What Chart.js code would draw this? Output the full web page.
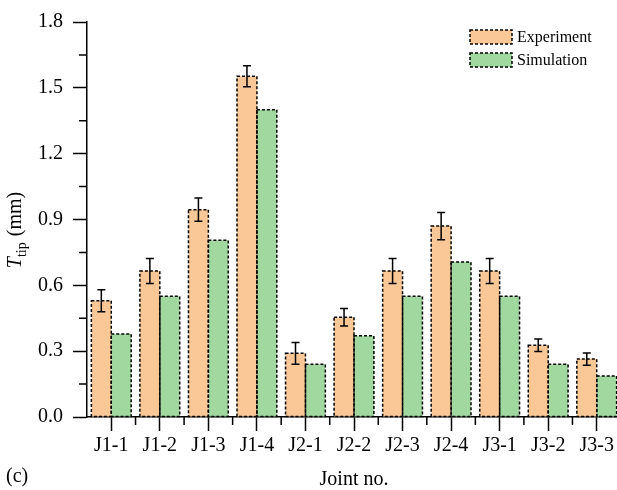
<!DOCTYPE html>
<html>
<head>
<meta charset="utf-8">
<script src="https://cdn.jsdelivr.net/npm/chart.js@4/dist/chart.umd.min.js"></script>
<style>
  html, body { margin: 0; padding: 0; background: #fff; overflow: hidden; }
  #wrap { width: 617px; height: 490px; overflow: hidden; }
  canvas { display: block; }
</style>
</head>
<body>
<div id="wrap"><canvas id="chart" width="621" height="490"></canvas></div>
<script>
// Tip deflection per joint: measured (with error) and simulated
const joints = ['J1-1', 'J1-2', 'J1-3', 'J1-4', 'J2-1', 'J2-2', 'J2-3', 'J2-4', 'J3-1', 'J3-2', 'J3-3'];
const experiment = [0.53, 0.665, 0.945, 1.553, 0.29, 0.455, 0.665, 0.87, 0.665, 0.327, 0.264];
const experimentError = [0.05, 0.057, 0.053, 0.048, 0.05, 0.04, 0.057, 0.062, 0.057, 0.028, 0.028];
const simulation = [0.378, 0.55, 0.805, 1.40, 0.24, 0.37, 0.55, 0.706, 0.55, 0.24, 0.187];
const yTicks = [0, 0.3, 0.6, 0.9, 1.2, 1.5, 1.8];

const FONT = '"Liberation Serif", "Times New Roman", serif';
const ORANGE = '#FAC896';
const GREEN = '#A0D8A0';

// Dotted outlines around every bar (bar elements only fill their borders)
const dottedOutline = {
  id: 'dottedOutline',
  afterDatasetsDraw(chart) {
    const ctx = chart.ctx;
    ctx.save();
    ctx.strokeStyle = '#000';
    ctx.lineWidth = 1.5;
    ctx.setLineDash([3, 2]);
    chart.data.datasets.forEach((ds, i) => {
      const meta = chart.getDatasetMeta(i);
      meta.data.forEach(bar => {
        const { x, y, base, width } = bar.getProps(['x', 'y', 'base', 'width'], true);
        ctx.strokeRect(x - width / 2, y, width, base - y);
      });
    });
    ctx.restore();
  }
};

// Error bars on the experiment series
const errorBars = {
  id: 'errorBars',
  afterDatasetsDraw(chart) {
    const ctx = chart.ctx;
    const yScale = chart.scales.y;
    const meta = chart.getDatasetMeta(0);
    ctx.save();
    ctx.strokeStyle = '#000';
    ctx.lineWidth = 1.5;
    ctx.setLineDash([]);
    meta.data.forEach((bar, i) => {
      const v = experiment[i], e = experimentError[i];
      const yTop = yScale.getPixelForValue(v + e);
      const yBot = yScale.getPixelForValue(v - e);
      const x = bar.x;
      ctx.beginPath();
      ctx.moveTo(x, yTop); ctx.lineTo(x, yBot);
      ctx.moveTo(x - 4, yTop); ctx.lineTo(x + 4, yTop);
      ctx.moveTo(x - 4, yBot); ctx.lineTo(x + 4, yBot);
      ctx.stroke();
    });
    ctx.restore();
  }
};

// Minor ticks, axis titles, legend and panel tag
const decorations = {
  id: 'decorations',
  afterDraw(chart) {
    const ctx = chart.ctx;
    const { left, right, top, bottom } = chart.chartArea;
    const xs = chart.scales.x, ys = chart.scales.y;
    ctx.save();
    ctx.strokeStyle = '#000';
    ctx.lineWidth = 1.5;
    ctx.beginPath();
    // minor y ticks halfway between labelled ticks
    for (let i = 0; i < yTicks.length - 1; i++) {
      const py = ys.getPixelForValue((yTicks[i] + yTicks[i + 1]) / 2);
      ctx.moveTo(left - 8, py); ctx.lineTo(left, py);
    }
    // minor x ticks at category boundaries
    for (let i = 1; i < joints.length; i++) {
      const px = (xs.getPixelForValue(i - 1) + xs.getPixelForValue(i)) / 2;
      ctx.moveTo(px, bottom); ctx.lineTo(px, bottom + 8);
    }
    ctx.stroke();

    ctx.fillStyle = '#000';
    // x title
    ctx.font = '20px ' + FONT;
    ctx.textAlign = 'center';
    ctx.textBaseline = 'alphabetic';
    ctx.fillText('Joint no.', (left + right) / 2, 485);
    // panel tag
    ctx.textAlign = 'left';
    ctx.fillText('(c)', 6, 482);

    // y title: T_tip (mm)
    ctx.save();
    ctx.translate(21, 230);
    ctx.rotate(-Math.PI / 2);
    const fMain = '20px ' + FONT, fItal = 'italic 20px ' + FONT, fSub = '14px ' + FONT;
    ctx.font = fItal; const wT = ctx.measureText('T').width;
    ctx.font = fSub; const wSub = ctx.measureText('tip').width;
    ctx.font = fMain; const wRest = ctx.measureText(' (mm)').width;
    let x0 = -(wT + wSub + 1 + wRest) / 2;
    ctx.textAlign = 'left';
    ctx.font = fItal; ctx.fillText('T', x0, 0); x0 += wT;
    ctx.font = fSub; ctx.fillText('tip', x0, 5); x0 += wSub + 1;
    ctx.font = fMain; ctx.fillText(' (mm)', x0, 0);
    ctx.restore();

    // legend
    const items = [
      { label: chart.data.datasets[0].label, color: ORANGE, y: 37 },
      { label: chart.data.datasets[1].label, color: GREEN, y: 60 }
    ];
    ctx.font = '16px ' + FONT;
    ctx.textBaseline = 'middle';
    items.forEach(it => {
      ctx.fillStyle = it.color;
      ctx.fillRect(470, it.y - 7, 42, 14);
      ctx.setLineDash([3, 2]);
      ctx.lineWidth = 1.5;
      ctx.strokeRect(470, it.y - 7, 42, 14);
      ctx.setLineDash([]);
      ctx.fillStyle = '#000';
      ctx.fillText(it.label, 517, it.y + 1);
    });
    ctx.restore();
  }
};

new Chart(document.getElementById('chart'), {
  type: 'bar',
  data: {
    labels: joints,
    datasets: [
      { label: 'Experiment', data: experiment, backgroundColor: ORANGE, borderWidth: 0 },
      { label: 'Simulation', data: simulation, backgroundColor: GREEN, borderWidth: 0 }
    ]
  },
  options: {
    responsive: false,
    animation: false,
    devicePixelRatio: 1,
    layout: { padding: { left: 0, right: 0, top: 19, bottom: 0 } },
    datasets: { bar: { categoryPercentage: 0.82, barPercentage: 1.0 } },
    plugins: { legend: { display: false }, tooltip: { enabled: false } },
    scales: {
      x: {
        offset: true,
        grid: { display: true, drawOnChartArea: false, offset: false, tickLength: 14, tickColor: '#000', tickWidth: 1.5 },
        border: { display: true, color: '#000', width: 1.5 },
        ticks: { color: '#000', font: { family: FONT, size: 20 }, padding: 3, maxRotation: 0, autoSkip: false },
        afterFit(scale) { scale.height = 73; }
      },
      y: {
        min: 0, max: 1.8,
        afterBuildTicks(scale) { scale.ticks = yTicks.map(v => ({ value: v })); },
        grid: { display: true, drawOnChartArea: false, tickLength: 14, tickColor: '#000', tickWidth: 1.5 },
        border: { display: true, color: '#000', width: 1.5 },
        ticks: { color: '#000', font: { family: FONT, size: 20 }, padding: 10, callback: v => v.toFixed(1) },
        afterFit(scale) { scale.width = 87; }
      }
    }
  },
  plugins: [dottedOutline, errorBars, decorations]
});
</script>
</body>
</html>
